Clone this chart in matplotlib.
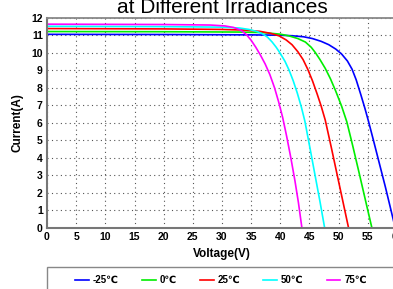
import matplotlib
matplotlib.use("Agg")
import matplotlib.pyplot as plt
from matplotlib.patches import Rectangle

plt.rcParams['font.family'] = ['Liberation Sans', 'DejaVu Sans']

temps = ["-25℃", "0℃", "25℃", "50℃", "75℃"]
colors = ["#0000ff", "#00ee00", "#ff0000", "#00ffff", "#ff00ff"]

# I-V points, one pair of lists per temperature
v_m25 = [0, 20, 35, 40, 42, 44, 45.5, 47, 48.3, 49.5, 50.5, 51.5, 52.3,
         53.0, 53.8, 54.5, 55.1, 56.0, 57.0, 58.0, 58.8, 59.7]
i_m25 = [11.04, 11.03, 11.01, 10.99, 10.96, 10.9, 10.8, 10.64, 10.45, 10.2,
         9.92, 9.52, 9.05, 8.45, 7.6, 6.82, 6.1, 4.95, 3.65, 2.35, 1.25, 0]

v_0 = [0, 20, 33, 37, 40, 41.5, 43, 44.3, 45.3, 46.0, 46.8, 47.7, 48.6,
       49.5, 50.5, 51.4, 52.4, 53.5, 54.6, 55.7]
i_0 = [11.2, 11.19, 11.17, 11.14, 11.05, 10.95, 10.8, 10.6, 10.3, 10.0,
       9.6, 9.1, 8.5, 7.8, 6.95, 6.05, 4.7, 3.15, 1.57, 0]

v_25 = [0, 20, 30, 34, 36.5, 38.3, 39.8, 41, 42, 43, 43.9, 44.7, 45.5,
        46.3, 47.0, 47.7, 48.7, 49.7, 50.7, 51.7]
i_25 = [11.37, 11.35, 11.32, 11.28, 11.21, 11.1, 10.95, 10.72, 10.45, 10.05,
        9.6, 9.05, 8.4, 7.65, 6.95, 6.15, 4.65, 3.1, 1.55, 0]

v_50 = [0, 20, 30, 33, 34.6, 36, 36.9, 37.8, 38.6, 39.3, 40.0, 40.8, 41.5,
        42.2, 42.9, 43.6, 44.2, 45.0, 45.9, 46.8, 47.6]
i_50 = [11.5, 11.48, 11.45, 11.4, 11.32, 11.2, 11.08, 10.88, 10.6, 10.3,
        9.95, 9.5, 9.0, 8.4, 7.7, 6.9, 6.1, 4.7, 3.1, 1.5, 0]

v_75 = [0, 20, 28, 30.5, 32, 33.2, 34.2, 35.0, 35.8, 36.6, 37.4, 38.2, 39.0,
        39.7, 40.4, 41.1, 41.8, 42.5, 43.1, 43.7]
i_75 = [11.62, 11.6, 11.57, 11.52, 11.43, 11.28, 11.02, 10.7, 10.3, 9.85,
        9.35, 8.75, 8.0, 7.2, 6.3, 5.2, 4.0, 2.7, 1.45, 0]

volts = [v_m25, v_0, v_25, v_50, v_75]
amps = [i_m25, i_0, i_25, i_50, i_75]

W, H = 393, 289
fig = plt.figure(figsize=(W / 100, H / 100), dpi=100)
ax = fig.add_axes([47 / W, 1 - 228 / H, (397 - 47) / W, (228 - 17.5) / H])

lines = []
for v, i, c, t in zip(volts, amps, colors, temps):
    ln, = ax.plot(v, i, color=c, lw=1.2, label=t)
    lines.append(ln)

ax.set_xlim(0, 60)
ax.set_ylim(0, 12)
ax.set_xticks(range(0, 61, 5))
ax.set_yticks(range(0, 13))
ax.tick_params(length=0, labelsize=7.5, pad=3)
for lab in ax.get_xticklabels() + ax.get_yticklabels():
    lab.set_fontweight('bold')
ax.grid(True, color='#555555', lw=0.8, linestyle=(0, (1, 3)))
for s in ['left', 'bottom']:
    ax.spines[s].set_color('#777777')
    ax.spines[s].set_linewidth(1.5)
ax.spines['top'].set_color('#888888')
ax.spines['top'].set_linewidth(1.3)
ax.spines['right'].set_visible(False)

ax.set_xlabel("Voltage(V)", fontsize=8.5, fontweight='bold', labelpad=4)
ax.set_ylabel("Current(A)", fontsize=8.5, fontweight='bold', labelpad=6)

# title is cut off by the top edge in the reference
fig.text(222 / W, 1 - 13 / H, "at Different Irradiances", fontsize=15,
         ha='center', va='baseline')

fig.patches.append(Rectangle((47 / W, -0.1), 1.0, 0.1 + 1 - 267.5 / H,
                             transform=fig.transFigure, fill=False,
                             edgecolor='#888888', lw=1.0))
leg = fig.legend(handles=lines, loc='center', ncol=5, frameon=False,
                 bbox_to_anchor=(221 / W, 1 - 280 / H),
                 prop={'size': 7, 'weight': 'bold'},
                 handlelength=1.4, handletextpad=0.4, columnspacing=2.4)

fig.savefig("out.png", dpi=100)
